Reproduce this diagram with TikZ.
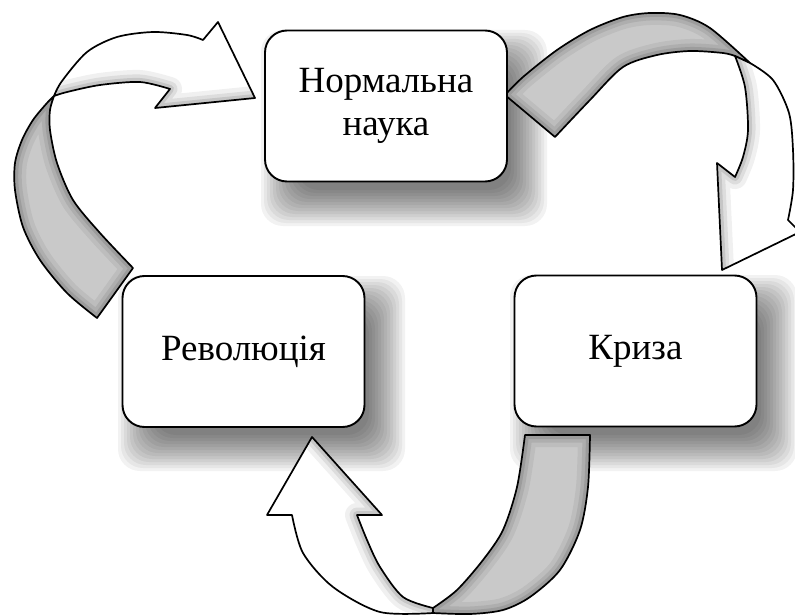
\documentclass[tikz,border=0pt]{standalone}
\usepackage{fontspec}
\setmainfont{Liberation Serif}
\begin{document}
\begin{tikzpicture}[x=1pt,y=-1pt,line join=round]
\useasboundingbox (0,0) rectangle (795,615);
\tikzset{
  box/.style={draw=black,line width=1.9pt,fill=white,rounded corners=22pt,
    minimum width=242pt,minimum height=151pt,align=center,inner sep=0pt,
    font=\fontsize{37}{43}\selectfont},
  edgeline/.style={draw=black,line width=1.7pt},
  grayband/.style={fill=black!21},
  whiteband/.style={fill=white},
}
\newcommand\boxshadow[4]{%
  \foreach \s in {22,19,...,-14}{%
    \fill[black,opacity=0.05,rounded corners=22pt]
      ({#1-(\s)},{#2-(\s)}) rectangle ({#3+\s},{#4+\s});}}
\newcommand\bandshade[2]{% #1 region, #2 edge path
  \begin{scope}
    \clip #1;
    \draw[black,opacity=0.06,line width=24pt] #2;
    \draw[black,opacity=0.08,line width=15pt] #2;
    \draw[black,opacity=0.10,line width=8pt] #2;
  \end{scope}}
% ---- paths ----
\def\GrayOne{(97,318) -- plot[smooth] coordinates {(97,318) (67,293) (40,260) (23,227) (15,190) (15,163) (22,140) (33,120) (47,103) (54,96)} -- plot[smooth] coordinates {(54,96) (50,110) (50,130) (57,163) (73,200) (100,233) (133,268)} -- cycle}
\def\WhiteOne{(54,96) -- plot[smooth] coordinates {(54,96) (62,81) (87,52) (117,37) (153,32) (187,35) (203,40)} -- (218,22) -- (255,98) -- (155,108) -- (170,89) -- plot[smooth] coordinates {(170,89) (140,82) (100,85) (67,92) (54,96)} -- cycle}
\def\ShOne{(255,98) -- (155,108) -- (170,89) -- plot[smooth] coordinates {(170,89) (140,82) (100,85) (67,92) (54,96)}}
\def\GrayTwo{(505,95) -- plot[smooth] coordinates {(505,95) (523,77) (557,50) (590,30) (623,17) (650,13) (680,15) (710,28) (750,63)} -- (735,56) -- plot[smooth] coordinates {(735,56) (723,53) (690,51) (657,55) (623,67) (590,100) (555,137)} -- cycle}
\def\WhiteTwo{(750,63) -- plot[smooth] coordinates {(750,63) (773,80) (789,113) (793,150) (793,190) (788,220)} -- (800,232) -- (722,270) -- (717,163) -- (735,177) -- plot[smooth] coordinates {(735,177) (743,157) (748,130) (745,87) (735,56)} -- cycle}
\def\ShTwo{(722,270) -- (717,163) -- (735,177) -- plot[smooth] coordinates {(735,177) (743,157) (748,130) (745,87) (735,56)}}
\def\GrayThree{(590,435) -- plot[smooth] coordinates {(590,435) (588,487) (580,530) (560,570) (530,597) (503,610) (470,614) (433,613)} -- (433,608) -- plot[smooth] coordinates {(433,608) (457,590) (483,560) (503,530) (517,487) (525,435)} -- cycle}
\def\WhiteThree{(433,608) -- plot[smooth] coordinates {(433,608) (403,597) (380,567) (367,540) (357,515)} -- (382,515) -- (312,437) -- (267,515) -- (292,515) -- plot[smooth] coordinates {(292,515) (303,553) (333,587) (380,612) (433,613)} -- cycle}
\def\ShThree{(312,437) -- (382,515) -- (357,515) -- plot[smooth] coordinates {(357,515) (367,540) (380,567) (403,597) (433,608)}}
% ---- box shadows ----
\boxshadow{283}{52}{525}{204}
\boxshadow{140}{298}{383}{449}
\boxshadow{532}{297}{775}{449}
% ---- arrows ----
\fill[whiteband] \WhiteOne;
\bandshade{\WhiteOne}{\ShOne}
\draw[edgeline] \WhiteOne;
\fill[grayband] \GrayOne;
\bandshade{\GrayOne}{\GrayOne}
\draw[edgeline] \GrayOne;

\fill[grayband] \GrayTwo;
\bandshade{\GrayTwo}{\GrayTwo}
\draw[edgeline] \GrayTwo;
\fill[whiteband] \WhiteTwo;
\bandshade{\WhiteTwo}{\ShTwo}
\draw[edgeline] \WhiteTwo;

\fill[grayband] \GrayThree;
\bandshade{\GrayThree}{\GrayThree}
\draw[edgeline] \GrayThree;
\fill[whiteband] \WhiteThree;
\bandshade{\WhiteThree}{\ShThree}
\draw[edgeline] \WhiteThree;
% ---- boxes ----
\node[box] (ns) at (386,106) {Нормальна\\наука};
\node[box] (rev) at (243.5,351.5) {Революція};
\node[box] (kr) at (635.5,351) {Криза};
\end{tikzpicture}
\end{document}
